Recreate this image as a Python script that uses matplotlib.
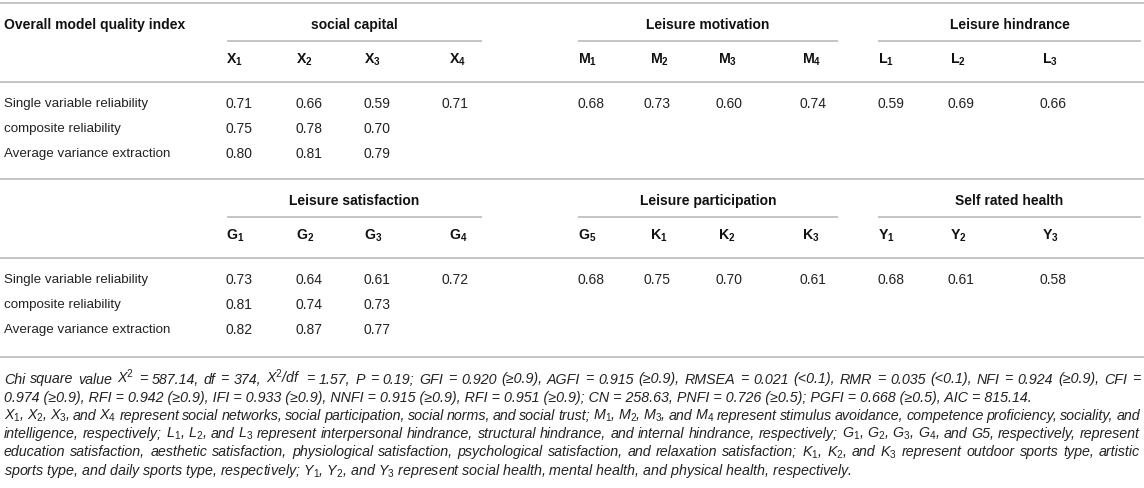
import matplotlib.pyplot as plt

plt.rcParams['font.family'] = ['Liberation Sans', 'DejaVu Sans']
plt.rcParams['mathtext.fontset'] = 'custom'
plt.rcParams['mathtext.rm'] = 'Liberation Sans'
plt.rcParams['mathtext.it'] = 'Liberation Sans:italic'
plt.rcParams['mathtext.bf'] = 'Liberation Sans:bold'

# data
row_labels = ['Single variable reliability', 'composite reliability', 'Average variance extraction']

groups_top = ['social capital', 'Leisure motivation', 'Leisure hindrance']
cols_top = ['X1', 'X2', 'X3', 'X4', 'M1', 'M2', 'M3', 'M4', 'L1', 'L2', 'L3']
single_top = [0.71, 0.66, 0.59, 0.71, 0.68, 0.73, 0.60, 0.74, 0.59, 0.69, 0.66]
composite_top = [0.75, 0.78, 0.70]
ave_top = [0.80, 0.81, 0.79]

groups_bot = ['Leisure satisfaction', 'Leisure participation', 'Self rated health']
cols_bot = ['G1', 'G2', 'G3', 'G4', 'G5', 'K1', 'K2', 'K3', 'Y1', 'Y2', 'Y3']
single_bot = [0.73, 0.64, 0.61, 0.72, 0.68, 0.75, 0.70, 0.61, 0.68, 0.61, 0.58]
composite_bot = [0.81, 0.74, 0.73]
ave_bot = [0.82, 0.87, 0.77]

footnote = [
    r'Chi square value X$^{\mathit{2}}$ = 587.14, df = 374, X$^{\mathit{2}}$/df = 1.57, P = 0.19; GFI = 0.920 (≥0.9), AGFI = 0.915 (≥0.9), RMSEA = 0.021 (<0.1), RMR = 0.035 (<0.1), NFI = 0.924 (≥0.9), CFI =',
    '0.974 (≥0.9), RFI = 0.942 (≥0.9), IFI = 0.933 (≥0.9), NNFI = 0.915 (≥0.9), RFI = 0.951 (≥0.9); CN = 258.63, PNFI = 0.726 (≥0.5); PGFI = 0.668 (≥0.5), AIC = 815.14.',
    r'X$_{\mathit{1}}$, X$_{\mathit{2}}$, X$_{\mathit{3}}$, and X$_{\mathit{4}}$ represent social networks, social participation, social norms, and social trust; M$_{\mathit{1}}$, M$_{\mathit{2}}$, M$_{\mathit{3}}$, and M$_{\mathit{4}}$ represent stimulus avoidance, competence proficiency, sociality, and',
    r'intelligence, respectively; L$_{\mathit{1}}$, L$_{\mathit{2}}$, and L$_{\mathit{3}}$ represent interpersonal hindrance, structural hindrance, and internal hindrance, respectively; G$_{\mathit{1}}$, G$_{\mathit{2}}$, G$_{\mathit{3}}$, G$_{\mathit{4}}$, and G5, respectively, represent',
    r'education satisfaction, aesthetic satisfaction, physiological satisfaction, psychological satisfaction, and relaxation satisfaction; K$_{\mathit{1}}$, K$_{\mathit{2}}$, and K$_{\mathit{3}}$ represent outdoor sports type, artistic',
    r'sports type, and daily sports type, respectively; Y$_{\mathit{1}}$, Y$_{\mathit{2}}$, and Y$_{\mathit{3}}$ represent social health, mental health, and physical health, respectively.',
]
justify = [True, False, True, True, True, False]

# layout (pixel coords)
W, H = 1144, 488
val_x = [226, 296, 364, 442, 578, 643, 715, 800, 877, 948, 1040]
head_x = [226, 296, 364, 449, 578, 650, 718, 802, 878, 950, 1042]
spans = [(227, 482), (578, 838), (878, 1141)]
line_c = '#c4c4c4'
txt_c = '#222222'

fig = plt.figure(figsize=(W / 100, H / 100), dpi=100)
ax = fig.add_axes([0, 0, 1, 1])
ax.set_xlim(0, W)
ax.set_ylim(H, 0)
ax.axis('off')
renderer = fig.canvas.get_renderer()


def hline(y, x0=0, x1=W):
    ax.plot([x0, x1], [y, y], color=line_c, lw=1.4, solid_capstyle='butt')


def block(y0, groups, cols, single, composite, ave, first):
    if first:
        ax.text(4, y0 + 22, 'Overall model quality index', fontsize=10, fontweight='bold',
                color='#111111', va='center')
    for g, (a, b) in zip(groups, spans):
        ax.text((a + b) / 2, y0 + 22, g, fontsize=10, fontweight='bold', color='#111111',
                ha='center', va='center')
        hline(y0 + 38, a, b)
    for c, x in zip(cols, head_x):
        lab = c[0] + r'$_{\mathbf{' + c[1] + '}}$'
        ax.text(x, y0 + 57, lab, fontsize=10.2, fontweight='bold', color='#111111', va='center')
    hline(y0 + 79)
    rows = [single, composite, ave]
    ys = [y0 + 101, y0 + 126, y0 + 151]
    for lab, vals, y in zip(row_labels, rows, ys):
        ax.text(4, y, lab, fontsize=9.6, color=txt_c, va='center')
        for v, x in zip(vals, val_x):
            ax.text(x, y, '%.2f' % v, fontsize=10, color=txt_c, va='center')


hline(3)
block(3, groups_top, cols_top, single_top, composite_top, ave_top, True)
hline(179)
block(179, groups_bot, cols_bot, single_bot, composite_bot, ave_bot, False)
hline(357)

# footnote, justified like the source
fn_kw = dict(fontsize=10.3, style='italic', color=txt_c, va='baseline')
x_left, x_right = 4, 1140
for i, line in enumerate(footnote):
    y = 383.5 + i * 18.2
    if not justify[i]:
        ax.text(x_left, y, line, **fn_kw)
        continue
    words = line.split(' ')
    objs = [ax.text(x_left, y, w, **fn_kw) for w in words]
    widths = [t.get_window_extent(renderer).width for t in objs]
    gap = (x_right - x_left - sum(widths)) / (len(words) - 1)
    gap = max(gap, 1.5)
    x = x_left
    for t, w in zip(objs, widths):
        t.set_x(x)
        x += w + gap

fig.savefig('out.png', dpi=100)
